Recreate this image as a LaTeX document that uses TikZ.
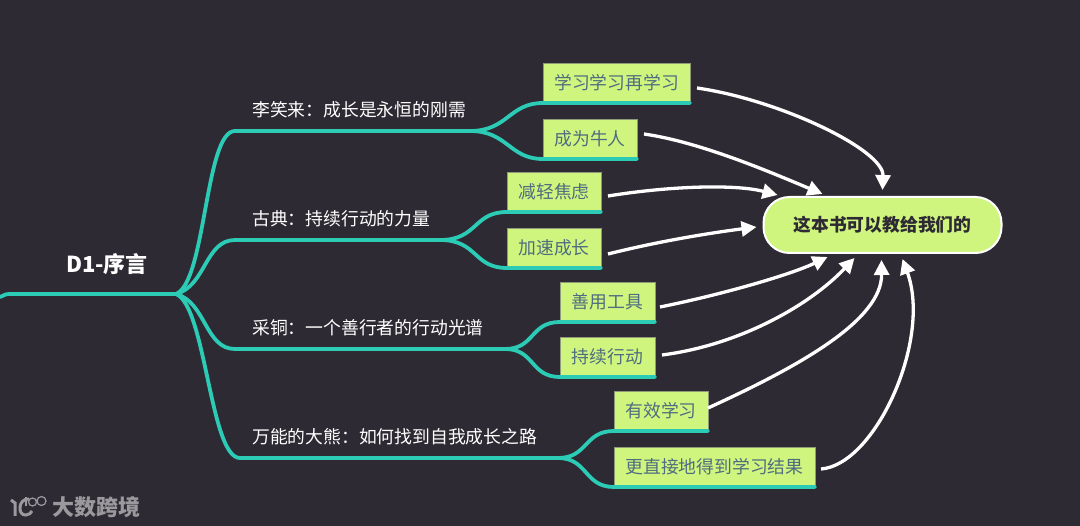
\documentclass[tikz,border=0pt]{standalone}
\usepackage{fontspec}
\setmainfont{Noto Sans CJK SC}
\usetikzlibrary{arrows.meta}
\definecolor{boardbg}{HTML}{2E2A33}
\definecolor{branchteal}{HTML}{2CCBB6}
\definecolor{leafgreen}{HTML}{CFF57F}
\definecolor{leafedge}{HTML}{8F9A78}
\definecolor{leafink}{HTML}{4F6C80}
\definecolor{markgrey}{HTML}{9B999D}

\begin{document}
\begin{tikzpicture}[
  x=1pt,y=-1pt,
  branch/.style={draw=branchteal,line width=3.8pt,line cap=round},
  topic/.style={anchor=west,text=white,inner sep=0pt,font=\fontsize{17.8}{20}\selectfont},
  leaf/.style={draw=leafedge,line width=0.6pt,fill=leafgreen,text=leafink,inner sep=0pt,outer sep=0pt,
               minimum height=40pt,font=\fontsize{17.8}{20}\selectfont},
  link/.style={draw=white,line width=3.3pt,-{Triangle[length=15pt,width=15pt,fill=white]}}
]
  \fill[boardbg] (0,0) rectangle (1080,526);
  \useasboundingbox (0,0) rectangle (1080,526);

  % Root
  \node[anchor=center,text=white,inner sep=0pt,font=\fontsize{22}{24}\selectfont\bfseries] (title) at (107,264) {D1-序言};
  \coordinate (rootin) at (0,297);
  \coordinate (hub) at (176,294);

  % Topics
  \node[topic] (topicA) at (252,110) {李笑来：成长是永恒的刚需};
  \node[topic] (topicB) at (252,219) {古典：持续行动的力量};
  \node[topic] (topicC) at (252,328) {采铜：一个善行者的行动光谱};
  \node[topic] (topicD) at (252,437) {万能的大熊：如何找到自我成长之路};

  \coordinate (forkA) at (470,131);
  \coordinate (forkB) at (440,240);
  \coordinate (forkC) at (505,349);
  \coordinate (forkD) at (558,458);

  % Leaves
  \node[leaf,minimum width=147pt] (relearn) at (616.5,83) {学习学习再学习};
  \node[leaf,minimum width=94pt]  (master)  at (590,139)  {成为牛人};
  \node[leaf,minimum width=94pt]  (relief)  at (554,192)  {减轻焦虑};
  \node[leaf,minimum width=94pt]  (speed)   at (554,248)  {加速成长};
  \node[leaf,minimum width=95pt]  (tools)   at (607.5,302) {善用工具};
  \node[leaf,minimum width=95pt]  (keepon)  at (607.5,357) {持续行动};
  \node[leaf,minimum width=94pt]  (study)   at (661,411)  {有效学习};
  \node[leaf,minimum width=201pt] (result)  at (714.5,467) {更直接地得到学习结果};

  % Goal
  \node[draw=white,line width=2pt,fill=leafgreen,text=boardbg,rounded corners=26pt,inner sep=0pt,
        minimum width=238pt,minimum height=56pt,font=\fontsize{17.8}{20}\selectfont\bfseries]
        (goal) at (882.5,225) {这本书可以教给我们的};

  % Root and branches
  \draw[branch] (rootin) .. controls +(5,-2) and +(-5,0) .. (10,294) -- (hub);
  \draw[branch] (hub) .. controls +(30,-12) and +(-30,0) .. (235,131) -- (forkA);
  \draw[branch] (hub) .. controls +(30,-8) and +(-30,0) .. (235,240) -- (forkB);
  \draw[branch] (hub) .. controls +(30,8) and +(-30,0) .. (235,349) -- (forkC);
  \draw[branch] (hub) .. controls +(30,12) and +(-30,0) .. (240,458) -- (forkD);

  % Forks to leaves
  \draw[branch] (forkA) .. controls +(38,0) and +(-34,0) .. (relearn.south west) -- (relearn.south east);
  \draw[branch] (forkA) .. controls +(38,0) and +(-34,0) .. (master.south west) -- (master.south east);
  \draw[branch] (forkB) .. controls +(38,0) and +(-34,0) .. (relief.south west) -- (relief.south east);
  \draw[branch] (forkB) .. controls +(38,0) and +(-34,0) .. (speed.south west) -- (speed.south east);
  \draw[branch] (forkC) .. controls +(30,0) and +(-30,0) .. (tools.south west) -- (tools.south east);
  \draw[branch] (forkC) .. controls +(30,0) and +(-30,0) .. (keepon.south west) -- (keepon.south east);
  \draw[branch] (forkD) .. controls +(30,0) and +(-30,0) .. (study.south west) -- (study.south east);
  \draw[branch] (forkD) .. controls +(30,0) and +(-30,0) .. (result.south west) -- (result.south east);

  % Links into goal
  \draw[link] ([xshift=7pt,yshift=-5pt]relearn.east) .. controls (780,100) and (884,150) .. ([yshift=6pt]goal.north);
  \draw[link] ([xshift=7pt,yshift=5pt]master.east) .. controls (700,142) and (770,172) .. ([xshift=-60pt,yshift=2pt]goal.north);
  \draw[link] ([xshift=7pt,yshift=-4pt]relief.east) .. controls (670,186) and (735,184) .. ([xshift=15pt,yshift=1pt]goal.north west);
  \draw[link] ([xshift=7pt,yshift=-6pt]speed.east) .. controls (660,241) and (710,233) .. ([xshift=-6pt,yshift=-2pt]goal.west);
  \draw[link] ([xshift=5pt,yshift=-5pt]tools.east) .. controls (720,295) and (790,275) .. ([xshift=-55pt,yshift=-3pt]goal.south);
  \draw[link] ([xshift=7pt,yshift=2pt]keepon.east) .. controls (740,345) and (810,305) .. ([xshift=-28pt,yshift=-4pt]goal.south);
  \draw[link] ([yshift=3pt]study.east) .. controls (800,366) and (882,320) .. ([xshift=-1pt,yshift=-6pt]goal.south);
  \draw[link] ([xshift=6pt,yshift=-2pt]result.east) .. controls (875,465) and (932,340) .. ([xshift=20pt,yshift=-5pt]goal.south);

  % Watermark
  \draw[markgrey,line width=3pt] (11,500) -- (15,503) -- (15,516);
  \draw[markgrey,line width=3pt] (29,499) .. controls (18,498) and (17,516) .. (26,515) .. controls (29,515) and (31,513) .. (32,511);
  \draw[markgrey,line width=1.2pt] (26,497) -- (26,506);
  \draw[markgrey,line width=1.2pt] (32.5,502) circle (4pt) (41.5,501) circle (4.5pt);
  \node[anchor=west,text=markgrey,inner sep=0pt,font=\fontsize{22}{24}\selectfont\bfseries] (mark) at (52,507) {大数跨境};
\end{tikzpicture}
\end{document}
